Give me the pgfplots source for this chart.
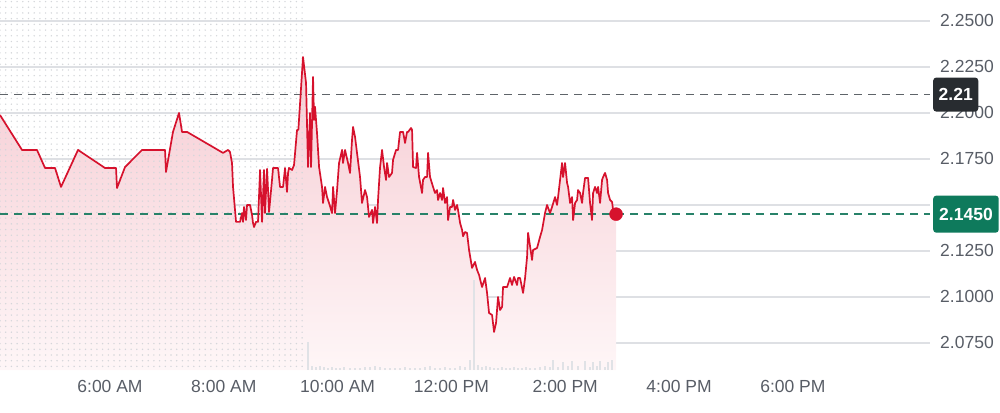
\documentclass[border=0pt]{standalone}
\usepackage{fontspec}
\setmainfont{Liberation Sans}
\usepackage{pgfplots}
\pgfplotsset{compat=1.18}
\usetikzlibrary{patterns.meta}
\definecolor{linered}{RGB}{214,18,45}
\definecolor{fillpink}{RGB}{246,204,211}
\definecolor{fillwhite}{RGB}{254,246,247}
\definecolor{gridgray}{RGB}{222,224,228}
\definecolor{textgray}{RGB}{88,93,102}
\definecolor{darkbox}{RGB}{40,44,48}
\definecolor{greenbox}{RGB}{14,122,92}
\definecolor{greendash}{RGB}{40,130,105}
\definecolor{graydash}{RGB}{95,100,105}
\definecolor{volgray}{RGB}{224,226,230}
\definecolor{dotgray}{RGB}{212,214,218}

\tikzdeclarepattern{
  name=pmdots,
  type=colored,
  bottom left={(-1pt,-1pt)},
  top right={(1pt,1pt)},
  tile size={(5.7pt,5.7pt)},
  code={\fill[dotgray] (0pt,0pt) circle (0.8pt);}
}

\pgfplotstableread{
h p
4.067 2.1989
4.454 2.1799
4.717 2.1799
4.858 2.1701
5.034 2.1701
5.139 2.1598
5.438 2.1799
5.912 2.1701
6.106 2.1701
6.123 2.1592
6.264 2.1706
6.563 2.1799
6.967 2.1799
6.984 2.1679
7.107 2.1897
7.213 2.2000
7.266 2.1897
7.354 2.1897
7.986 2.1783
8.074 2.1799
8.109 2.1788
8.144 2.1728
8.162 2.1598
8.215 2.1408
8.285 2.1408
8.320 2.1456
8.338 2.1408
8.355 2.1489
8.390 2.1418
8.408 2.1500
8.461 2.1500
8.496 2.1446
8.513 2.1402
8.531 2.1380
8.566 2.1408
8.601 2.1408
8.637 2.1690
8.672 2.1408
8.707 2.1690
8.724 2.1456
8.760 2.1696
8.795 2.1462
8.847 2.1636
8.865 2.1701
8.953 2.1701
8.988 2.1598
9.041 2.1598
9.076 2.1701
9.111 2.1571
9.129 2.1674
9.146 2.1701
9.199 2.1690
9.234 2.1717
9.287 2.1908
9.310 2.1908
9.392 2.2304
9.445 2.2163
9.480 2.1706
9.515 2.2000
9.533 2.1706
9.568 2.2196
9.586 2.1962
9.603 2.2033
9.638 2.1891
9.674 2.1706
9.726 2.1598
9.744 2.1511
9.779 2.1598
9.814 2.1543
9.849 2.1511
9.902 2.1456
9.920 2.1598
9.955 2.1456
9.990 2.1581
10.025 2.1728
10.078 2.1799
10.095 2.1728
10.130 2.1799
10.183 2.1728
10.218 2.1674
10.253 2.1853
10.271 2.1924
10.306 2.1870
10.341 2.1783
10.394 2.1652
10.429 2.1511
10.482 2.1581
10.517 2.1543
10.552 2.1435
10.605 2.1473
10.623 2.1402
10.658 2.1489
10.693 2.1402
10.710 2.1527
10.746 2.1706
10.781 2.1799
10.816 2.1706
10.851 2.1636
10.869 2.1728
10.904 2.1652
10.956 2.1674
10.974 2.1745
11.027 2.1799
11.062 2.1799
11.097 2.1897
11.150 2.1897
11.185 2.1837
11.220 2.1897
11.238 2.1897
11.290 2.1918
11.308 2.1908
11.326 2.1706
11.378 2.1701
11.396 2.1783
11.431 2.1652
11.484 2.1565
11.501 2.1636
11.536 2.1652
11.572 2.1652
11.589 2.1783
11.624 2.1652
11.677 2.1598
11.712 2.1565
11.747 2.1581
11.765 2.1527
11.800 2.1565
11.835 2.1527
11.853 2.1592
11.888 2.1511
11.923 2.1543
11.941 2.1418
11.976 2.1489
12.011 2.1489
12.029 2.1527
12.064 2.1473
12.099 2.1500
12.116 2.1473
12.152 2.1402
12.187 2.1364
12.204 2.1330
12.239 2.1353
12.274 2.1348
12.310 2.1255
12.362 2.1158
12.415 2.1190
12.450 2.1147
12.485 2.1120
12.538 2.1054
12.591 2.1103
12.626 2.1022
12.661 2.0913
12.714 2.0902
12.749 2.0810
12.784 2.0859
12.819 2.1000
12.855 2.0929
12.890 2.0946
12.907 2.1054
12.978 2.1054
13.030 2.1103
13.065 2.1065
13.101 2.1109
13.153 2.1065
13.171 2.1103
13.206 2.1103
13.259 2.1022
13.294 2.1103
13.329 2.1217
13.347 2.1348
13.417 2.1201
13.434 2.1255
13.505 2.1266
13.557 2.1326
13.593 2.1364
13.645 2.1456
13.680 2.1500
13.733 2.1456
13.768 2.1489
13.821 2.1543
13.856 2.1500
13.874 2.1543
13.909 2.1636
13.944 2.1728
13.962 2.1652
13.997 2.1728
14.032 2.1620
14.050 2.1598
14.085 2.1511
14.120 2.1543
14.138 2.1418
14.173 2.1511
14.208 2.1527
14.225 2.1581
14.261 2.1565
14.296 2.1511
14.313 2.1565
14.348 2.1647
14.401 2.1647
14.436 2.1511
14.471 2.1418
14.489 2.1565
14.524 2.1598
14.559 2.1565
14.577 2.1598
14.612 2.1511
14.647 2.1636
14.665 2.1652
14.700 2.1674
14.735 2.1636
14.753 2.1565
14.788 2.1527
14.823 2.1516
14.841 2.1473
14.893 2.1450
}\pricedata

\pgfplotstableread{
h v
9.480 28
9.550 4
9.621 3
9.691 4
9.761 3
9.832 2
9.902 3
9.972 2
10.043 2
10.113 3
10.218 2
10.306 2
10.394 2
10.482 3
10.570 3
10.658 4
10.746 3
10.833 2
10.921 2
11.009 2
11.097 2
11.185 3
11.273 2
11.361 2
11.449 2
11.536 3
11.624 4
11.712 2
11.800 2
11.888 3
11.976 2
12.064 2
12.152 4
12.239 3
12.327 10
12.398 90
12.468 5
12.538 3
12.608 4
12.679 3
12.749 2
12.819 2
12.890 3
12.960 2
13.030 2
13.101 3
13.171 2
13.241 2
13.311 3
13.382 2
13.469 2
13.557 3
13.645 4
13.733 3
13.786 10
13.874 3
13.962 8
14.050 4
14.120 9
14.225 4
14.348 9
14.436 3
14.489 8
14.559 4
14.612 9
14.700 3
14.753 8
14.823 10
}\voldata

\begin{document}
\begin{tikzpicture}[font=\fontsize{17.5}{20}\selectfont]
\path[use as bounding box] (0,0) rectangle (1000pt,412pt);
% price
\begin{axis}[
  at={(0pt,42pt)}, anchor=south west,
  scale only axis, width=930pt, height=370pt,
  xmin=4.067, xmax=20.41, ymin=2.0603, ymax=2.2614,
  clip=false,
  axis line style={draw=none},
  major tick length=0pt,
  ymajorgrids,
  grid style={color=gridgray, line width=1.1pt},
  ytick={2.075,2.1,2.125,2.15,2.175,2.2,2.225,2.25},
  yticklabels={2.0750,2.1000,2.1250,{},2.1750,2.2000,2.2250,2.2500},
  yticklabel pos=right,
  yticklabel style={anchor=west, inner sep=0pt, xshift=10pt, text=textgray},
  xtick={6,8,10,12,14,16,18},
  xticklabels={6:00 AM,8:00 AM,10:00 AM,12:00 PM,2:00 PM,4:00 PM,6:00 PM},
  xticklabel style={anchor=base, inner sep=0pt, yshift=-22pt, text=textgray},
]
\addplot[draw=none, top color=fillpink, bottom color=fillwhite, forget plot]
  table[x=h, y=p] {\pricedata} \closedcycle;
\fill[pattern=pmdots] (axis cs:4.067,2.0603) rectangle (axis cs:9.43,2.2614);
\coordinate (prev) at (axis cs:20.41,2.21);
\coordinate (cur) at (axis cs:20.41,2.145);
\end{axis}
% volume
\begin{axis}[
  at={(0pt,42pt)}, anchor=south west,
  scale only axis, width=930pt, height=370pt,
  xmin=4.067, xmax=20.41, ymin=0, ymax=370,
  hide axis,
]
\addplot[ycomb, color=volgray, line width=1.3pt] table[x=h, y=v] {\voldata};
\end{axis}
% price line on top
\begin{axis}[
  at={(0pt,42pt)}, anchor=south west,
  scale only axis, width=930pt, height=370pt,
  xmin=4.067, xmax=20.41, ymin=2.0603, ymax=2.2614,
  clip=false, hide axis,
]
\addplot[color=graydash, line width=1.4pt, dash pattern=on 8pt off 6pt]
  coordinates {(4.067,2.21) (20.41,2.21)};
\addplot[color=greendash, line width=1.4pt, dash pattern=on 8pt off 6pt]
  coordinates {(4.067,2.145) (20.41,2.145)};
\addplot[color=linered, line width=1.7pt, line join=round] table[x=h, y=p] {\pricedata};
\addplot[only marks, mark=*, mark size=6.5pt, color=linered] coordinates {(14.893,2.145)};
\end{axis}
\node[anchor=west, xshift=3pt, fill=darkbox, text=white, rounded corners=3pt,
      inner xsep=5.5pt, minimum height=34pt, font=\fontsize{17.5}{20}\selectfont\bfseries] at (prev) {2.21};
\node[anchor=west, xshift=3pt, fill=greenbox, text=white, rounded corners=3pt,
      inner xsep=6pt, minimum height=37pt, font=\fontsize{17.5}{20}\selectfont\bfseries] at (cur) {2.1450};
\end{tikzpicture}
\end{document}
